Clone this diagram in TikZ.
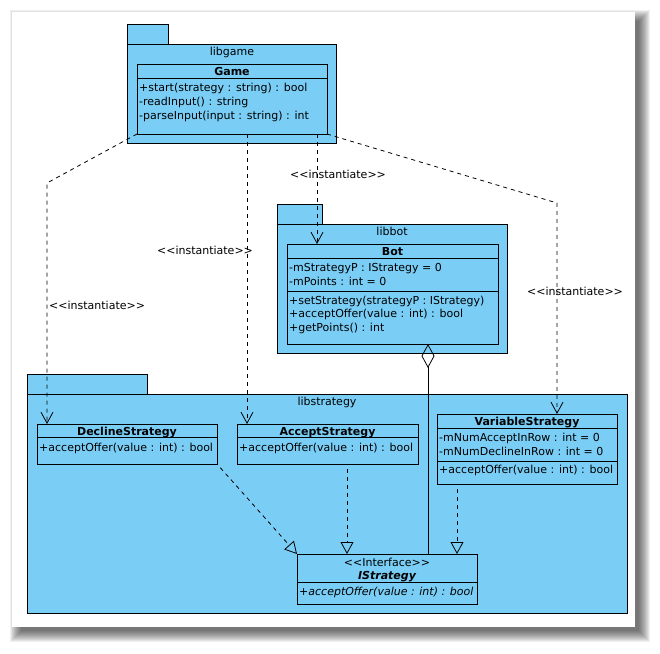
\documentclass[tikz,border=0pt]{standalone}
\usepackage{fontspec}
\newfontfamily\dv{DejaVu Sans}
\usetikzlibrary{arrows.meta}
\definecolor{pkgblue}{RGB}{122,206,246}
\begin{document}
\begin{tikzpicture}[x=1pt,y=-1pt,
  box/.style={draw=black, fill=pkgblue, line width=1pt, inner sep=0pt, outer sep=0pt, anchor=north west},
  sepline/.style={draw=black, line width=1pt},
  mem/.style={anchor=base west, inner sep=0pt, font=\dv\fontsize{11}{13}\selectfont},
  memit/.style={mem, font=\dv\itshape\fontsize{11}{13}\selectfont},
  hdr/.style={anchor=base, inner sep=0pt, font=\dv\bfseries\fontsize{11}{13}\selectfont},
  hdrit/.style={anchor=base, inner sep=0pt, font=\dv\bfseries\itshape\fontsize{11}{13}\selectfont},
  plain/.style={anchor=base, inner sep=0pt, font=\dv\fontsize{11}{13}\selectfont},
  dep/.style={draw=black, line width=0.8pt, dash pattern=on 4pt off 4pt, -{Straight Barb[length=11pt,width=12pt]}},
  gen/.style={draw=black, line width=0.8pt, dash pattern=on 4pt off 4pt, shorten <=5pt, -{Triangle[open,length=12pt,width=13pt]}},
  agg/.style={draw=black, line width=0.8pt, {Diamond[open,length=24pt,width=13pt]}-}
]
\useasboundingbox (0,0) rectangle (660,653);
\fill[white] (0,0) rectangle (660,653);
% shadow
\foreach \k in {0,...,11}{
  \fill[black, opacity=0.06] (21-\k,21-\k) rectangle (639+\k,631+\k);
}
\fill[white] (12,12) rectangle (635,627);

% packages
\node[box, minimum width=41pt, minimum height=20pt] (pgametab) at (127,24) {};
\node[box, minimum width=209pt, minimum height=99pt] (pgame) at (127,44) {};
\node[plain] (pgamename) at (232,55) {libgame};

\node[box, minimum width=45pt, minimum height=20pt] (pbottab) at (277,204) {};
\node[box, minimum width=230pt, minimum height=129pt] (pbot) at (277,224) {};
\node[plain] (pbotname) at (392,235) {libbot};

\node[box, minimum width=120pt, minimum height=20pt] (pstrtab) at (27,374) {};
\node[box, minimum width=600pt, minimum height=219pt] (pstr) at (27,394) {};
\node[plain] (pstrname) at (327,405) {libstrategy};

% Game
\node[box, minimum width=190pt, minimum height=70pt] (game) at (137,64) {};
\draw[sepline] (game.west |- 0,78) -- (game.east |- 0,78);
\node[hdr] (gameh) at (232,75) {Game};
\node[mem] (game1) at (139,91) {+start(strategy : string) : bool};
\node[mem] (game2) at (139,105) {-readInput() : string};
\node[mem] (game3) at (139,119) {-parseInput(input : string) : int};

% Bot
\node[box, minimum width=211pt, minimum height=100pt] (bot) at (287,244) {};
\draw[sepline] (bot.west |- 0,258) -- (bot.east |- 0,258);
\draw[sepline] (bot.west |- 0,291) -- (bot.east |- 0,291);
\node[hdr] (both) at (392.5,255) {Bot};
\node[mem] (bot1) at (289,271.5) {-mStrategyP : IStrategy = 0};
\node[mem] (bot2) at (289,285.5) {-mPoints : int = 0};
\node[mem] (bot3) at (289,304) {+setStrategy(strategyP : IStrategy)};
\node[mem] (bot4) at (289,317.5) {+acceptOffer(value : int) : bool};
\node[mem] (bot5) at (289,331) {+getPoints() : int};

% DeclineStrategy
\node[box, minimum width=180pt, minimum height=40pt] (decl) at (37,424) {};
\draw[sepline] (decl.west |- 0,437.5) -- (decl.east |- 0,437.5);
\node[hdr] (declh) at (127,435) {DeclineStrategy};
\node[mem] (decl1) at (39,451.5) {+acceptOffer(value : int) : bool};

% AcceptStrategy
\node[box, minimum width=181pt, minimum height=40pt] (acc) at (237,424) {};
\draw[sepline] (acc.west |- 0,437.5) -- (acc.east |- 0,437.5);
\node[hdr] (acch) at (327.5,435) {AcceptStrategy};
\node[mem] (acc1) at (239,451.5) {+acceptOffer(value : int) : bool};

% VariableStrategy
\node[box, minimum width=180pt, minimum height=70pt] (var) at (437,414) {};
\draw[sepline] (var.west |- 0,428) -- (var.east |- 0,428);
\draw[sepline] (var.west |- 0,461) -- (var.east |- 0,461);
\node[hdr] (varh) at (527,425.5) {VariableStrategy};
\node[mem] (var1) at (439,441.5) {-mNumAcceptInRow : int = 0};
\node[mem] (var2) at (439,455.5) {-mNumDeclineInRow : int = 0};
\node[mem] (var3) at (439,473.5) {+acceptOffer(value : int) : bool};

% IStrategy
\node[box, minimum width=180pt, minimum height=50pt] (istr) at (297,554) {};
\draw[sepline] (istr.west |- 0,582) -- (istr.east |- 0,582);
\node[plain] (istrs) at (387,566) {<<Interface>>};
\node[hdrit] (istrh) at (387,579) {IStrategy};
\node[memit] (istr1) at (299,595) {+acceptOffer(value : int) : bool};

% connectors
\coordinate (bend1) at (47,183);
\coordinate (bend4) at (557,203);
\draw[dep] (game.south west) -- (bend1) -- ([xshift=10pt]decl.north west);
\draw[dep] ([xshift=110pt]game.south west) -- ([xshift=10pt]acc.north west);
\draw[dep] ([xshift=180pt]game.south west) -- ([xshift=30pt]bot.north west);
\draw[dep] (game.south east) -- (bend4) -- ([xshift=120pt]var.north west);

\draw[gen] (decl.south east) -- (istr.north west);
\draw[gen] ([xshift=110pt]acc.south west) -- ([xshift=50pt]istr.north west);
\draw[gen] ([xshift=20pt]var.south west) -- ([xshift=160pt]istr.north west);
\draw[agg] ([xshift=141pt]bot.south west) -- ([xshift=131pt]istr.north west);

% labels
\node[mem] (lab1) at (49,309) {<<instantiate>>};
\node[plain] (lab2) at (205,254) {<<instantiate>>};
\node[plain] (lab3) at (338,178) {<<instantiate>>};
\node[plain] (lab4) at (575,295) {<<instantiate>>};
\end{tikzpicture}
\end{document}
